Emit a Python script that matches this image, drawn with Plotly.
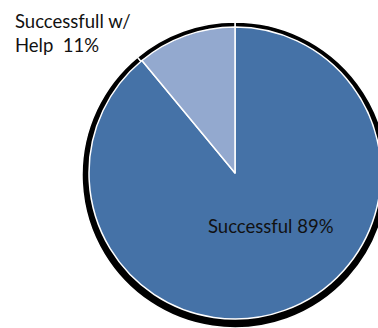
import plotly.graph_objects as go

labels = ["Successful", "Successfull w/ Help"]
values = [89, 11]
colors = ["#4572A7", "#93A9CF"]
label_texts = ["Successful 89%", "Successfull w/<br>Help  11%"]

W, H = 390, 328

def dom(cx, cy, r):
    return dict(x=[(cx - r) / W, (cx + r) / W],
                y=[(H - cy - r) / H, (H - cy + r) / H])

fig = go.Figure()
# shadow
fig.add_trace(go.Pie(
    labels=labels, values=values, sort=False, direction="clockwise",
    rotation=0, textinfo="none", hoverinfo="skip", showlegend=False,
    marker=dict(colors=["#000000", "#000000"], line=dict(color="#FFFFFF", width=1.5)),
    domain=dom(235, 175, 153),
))
fig.add_trace(go.Pie(
    labels=labels, values=values, sort=False, direction="clockwise",
    rotation=0, textinfo="none", hoverinfo="skip", showlegend=False,
    marker=dict(colors=colors, line=dict(color="#FFFFFF", width=1.5)),
    domain=dom(235, 173, 146),
))

fig.add_annotation(text=label_texts[1], x=13 / W, y=1 - 8 / H, xref="paper", yref="paper",
                   xanchor="left", yanchor="top", align="left", showarrow=False,
                   font=dict(family="Lato", size=18.5, color="#111111"))
fig.add_annotation(text=label_texts[0], x=271 / W, y=1 - 226 / H, xref="paper", yref="paper",
                   xanchor="center", yanchor="middle", showarrow=False,
                   font=dict(family="Lato", size=18.5, color="#111111"))

fig.update_layout(width=W, height=H, margin=dict(l=0, r=0, t=0, b=0),
                  paper_bgcolor="white", plot_bgcolor="white")

fig.write_html("out.html", config={"displayModeBar": False},
               post_script="document.body.style.overflow='hidden';document.body.style.margin='0';")
